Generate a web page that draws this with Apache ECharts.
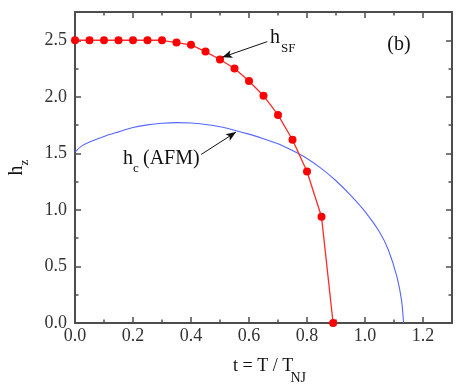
<!DOCTYPE html>
<html>
<head>
<meta charset="utf-8">
<script src="https://cdn.jsdelivr.net/npm/echarts@6/dist/echarts.min.js"></script>
<style>
html,body{margin:0;padding:0;background:#fff;}
#c{width:457px;height:392px;}
</style>
</head>
<body>
<div id="c"></div>
<script>
// h_SF (spin-flop) data points
const sfT = [0, 0.05, 0.10, 0.15, 0.20, 0.25, 0.30, 0.35, 0.40, 0.45, 0.50, 0.55, 0.60, 0.65, 0.70, 0.75, 0.80, 0.85, 0.89];
const sfH = [2.5, 2.5, 2.5, 2.5, 2.5, 2.5, 2.5, 2.48, 2.46, 2.40, 2.33, 2.25, 2.14, 2.01, 1.84, 1.62, 1.34, 0.94, 0.0];
// h_c (AFM) curve
const afmT = [0, 0.02, 0.05, 0.10, 0.15, 0.20, 0.25, 0.30, 0.35, 0.40, 0.45, 0.50, 0.55, 0.60, 0.65, 0.70, 0.75, 0.80, 0.85, 0.90, 0.95, 1.00, 1.05, 1.08, 1.11, 1.126, 1.133];
const afmH = [1.51, 1.56, 1.60, 1.65, 1.69, 1.728, 1.752, 1.766, 1.772, 1.768, 1.755, 1.735, 1.705, 1.67, 1.63, 1.585, 1.525, 1.455, 1.365, 1.258, 1.13, 0.985, 0.805, 0.65, 0.41, 0.20, 0.0];
// axis ranges / ticks
const xRange = [0, 1.3], xMajor = 0.2, xMinor = 0.1;
const yRange = [0, 2.75], yMajor = 0.5, yMinor = 0.25;
// annotation arrows [from, to] in data coords
const sfArrow = [[0.663, 2.488], [0.508, 2.35]];
const afmArrow = [[0.435, 1.49], [0.555, 1.688]];

const AX = '#4d4d4d';
const FONT = 'Liberation Serif';
const zip = (a, b) => a.map((v, i) => [v, b[i]]);

function xAxisDef(pos, major, showLabel) {
  return {
    type: 'value', position: pos, min: xRange[0], max: xRange[1],
    interval: major ? xMajor : xMinor,
    axisLine: {show: major, onZero: false, lineStyle: {color: AX, width: 2}},
    axisTick: {show: true, inside: true, length: major ? 6 : 3.5, lineStyle: {color: AX, width: 1.5}},
    axisLabel: {show: showLabel, showMaxLabel: false, margin: 4, fontSize: 18, fontFamily: FONT, color: '#333',
      formatter: v => v.toFixed(1)},
    splitLine: {show: false}
  };
}
function yAxisDef(pos, major, showLabel) {
  return {
    type: 'value', position: pos, min: yRange[0], max: yRange[1],
    interval: major ? yMajor : yMinor,
    axisLine: {show: major, onZero: false, lineStyle: {color: AX, width: 2}},
    axisTick: {show: true, inside: true, length: major ? 6 : 3.5, lineStyle: {color: AX, width: 1.5}},
    axisLabel: {show: showLabel, showMaxLabel: false, margin: 8, fontSize: 18, fontFamily: FONT, color: '#333',
      formatter: v => v.toFixed(1)},
    splitLine: {show: false}
  };
}

const yMain = yAxisDef('left', true, true);
yMain.name = '{a|h}{b|z}';
yMain.nameLocation = 'middle';
yMain.nameRotate = 90;
yMain.nameGap = 44;
yMain.nameTextStyle = {
  color: '#111',
  rich: {
    a: {fontSize: 20, fontFamily: FONT, color: '#111', lineHeight: 24, verticalAlign: 'top'},
    b: {fontSize: 13, fontFamily: FONT, color: '#111', verticalAlign: 'bottom'}
  }
};

const chart = echarts.init(document.getElementById('c'), null, {renderer: 'canvas'});
chart.setOption({
  animation: false,
  backgroundColor: '#fff',
  grid: {left: 75, top: 12, width: 377, height: 311, containLabel: false, outerBoundsMode: 'none'},
  xAxis: [xAxisDef('bottom', true, true), xAxisDef('bottom', false, false), xAxisDef('top', true, false), xAxisDef('top', false, false)],
  yAxis: [yMain, yAxisDef('left', false, false), yAxisDef('right', true, false), yAxisDef('right', false, false)],
  series: [
    {
      type: 'line', data: zip(afmT, afmH), xAxisIndex: 0, yAxisIndex: 0,
      showSymbol: false, smooth: 0.3, lineStyle: {color: '#5566ff', width: 1.1}, z: 2,
      markLine: {
        silent: true, symbol: ['none', 'arrow'], symbolSize: [6, 10],
        lineStyle: {color: '#111', width: 1, type: 'solid'}, label: {show: false},
        data: [[{coord: afmArrow[0]}, {coord: afmArrow[1]}]]
      }
    },
    {
      type: 'line', data: zip(sfT, sfH), xAxisIndex: 0, yAxisIndex: 0,
      symbol: 'circle', symbolSize: 8, showSymbol: true,
      lineStyle: {color: '#ff2a2a', width: 1.3}, itemStyle: {color: '#ff0000'}, z: 3,
      markLine: {
        silent: true, symbol: ['none', 'arrow'], symbolSize: [6, 10],
        lineStyle: {color: '#111', width: 1, type: 'solid'}, label: {show: false},
        data: [[{coord: sfArrow[0]}, {coord: sfArrow[1]}]]
      }
    }
  ],
  graphic: [
    {type: 'text', x: 270, y: 37.3, style: {text: 'h', font: '20px "Liberation Serif"', fill: '#111', align: 'left', verticalAlign: 'middle'}},
    {type: 'text', x: 281, y: 48.8, style: {text: 'SF', font: '13px "Liberation Serif"', fill: '#111', align: 'left', verticalAlign: 'middle'}},
    {type: 'text', x: 399, y: 44.7, style: {text: '(b)', font: '20px "Liberation Serif"', fill: '#111', align: 'center', verticalAlign: 'middle'}},
    {type: 'text', x: 123, y: 158.7, style: {text: 'h', font: '20px "Liberation Serif"', fill: '#111', align: 'left', verticalAlign: 'middle'}},
    {type: 'text', x: 133, y: 168.5, style: {text: 'c', font: '13px "Liberation Serif"', fill: '#111', align: 'left', verticalAlign: 'middle'}},
    {type: 'text', x: 143, y: 158.7, style: {text: '(AFM)', font: '20px "Liberation Serif"', fill: '#111', align: 'left', verticalAlign: 'middle'}},
    {type: 'text', x: 233, y: 366.7, style: {text: 't = T / T', font: '18px "Liberation Serif"', fill: '#111', align: 'left', verticalAlign: 'middle'}},
    {type: 'text', x: 290.5, y: 378, style: {text: 'NJ', font: '14px "Liberation Serif"', fill: '#111', align: 'left', verticalAlign: 'middle'}}
  ]
});
</script>
</body>
</html>
